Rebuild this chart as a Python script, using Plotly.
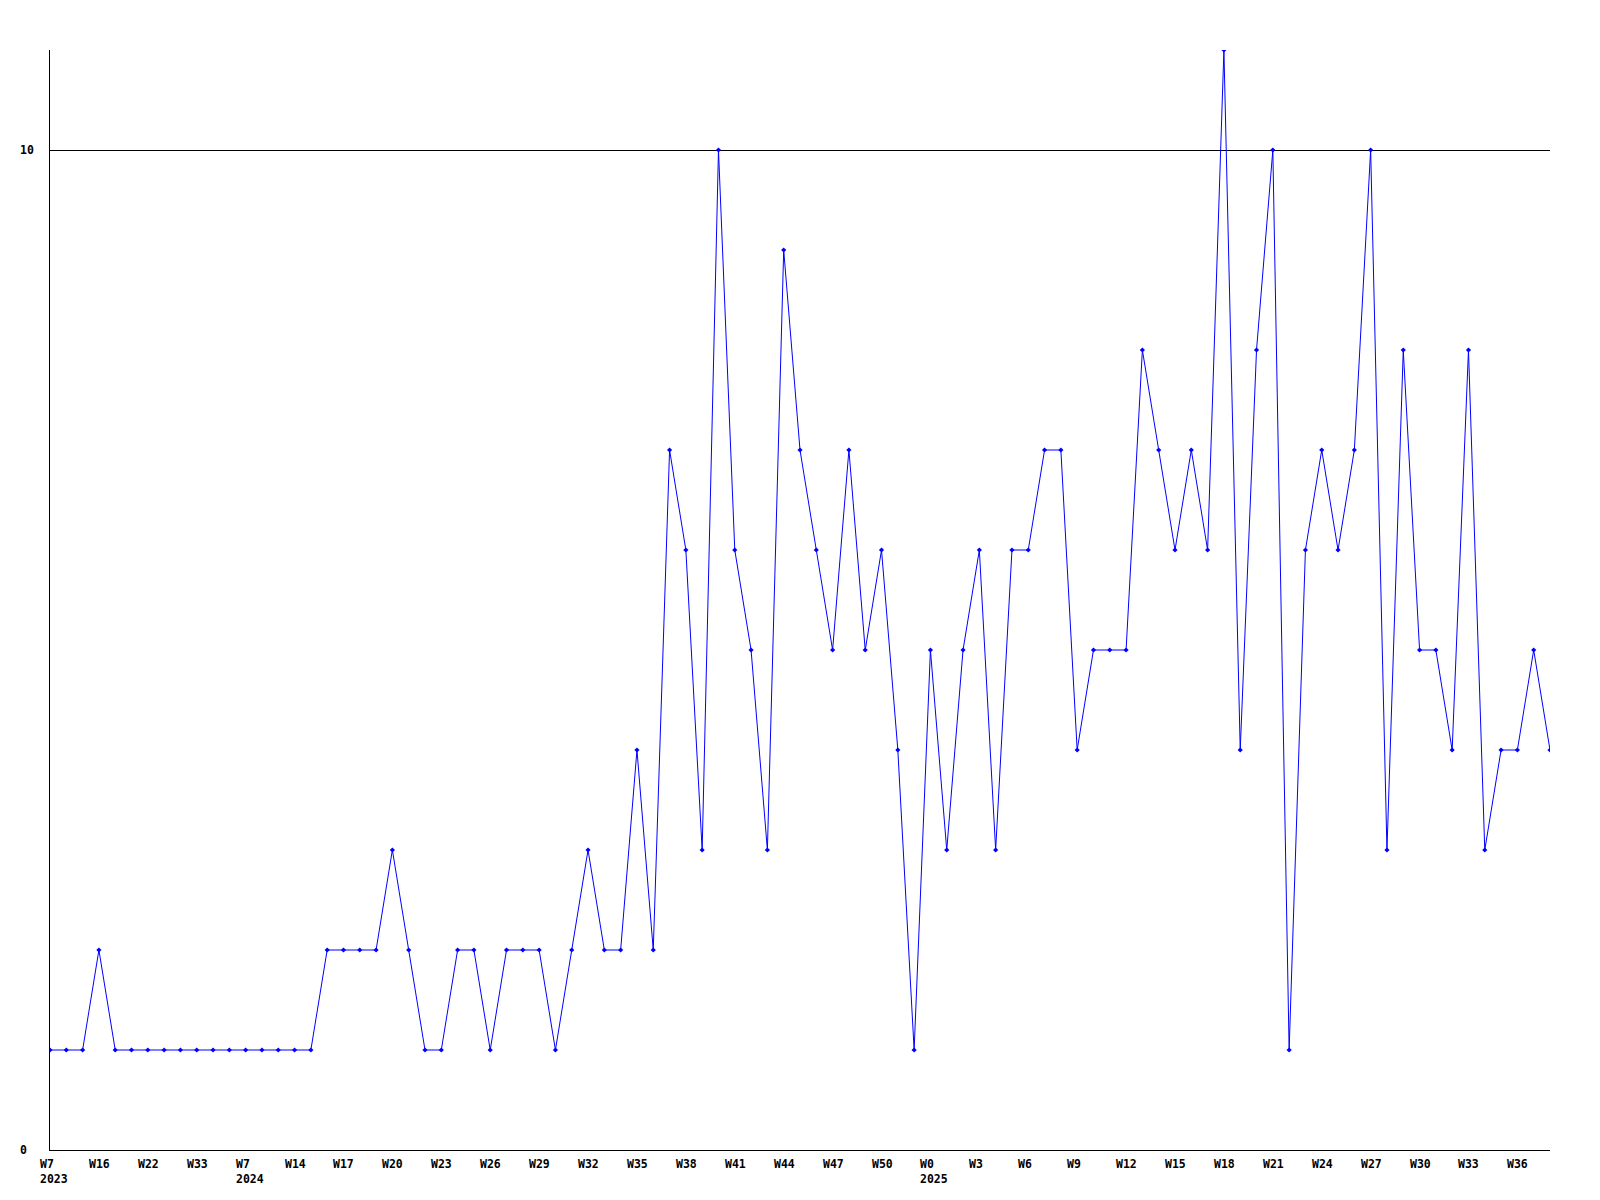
import plotly.graph_objects as go

# weekly counts, one point per week shown on the axis
counts = [
    1, 1, 1, 2, 1, 1, 1, 1, 1, 1, 1, 1, 1, 1, 1, 1, 1, 2, 2, 2,
    2, 3, 2, 1, 1, 2, 2, 1, 2, 2, 2, 1, 2, 3, 2, 2, 4, 2, 7, 6,
    3, 10, 6, 5, 3, 9, 7, 6, 5, 7, 5, 6, 4, 1, 5, 3, 5, 6, 3, 6,
    6, 7, 7, 4, 5, 5, 5, 8, 7, 6, 7, 6, 11, 4, 8, 10, 1, 6, 7, 6,
    7, 10, 3, 8, 5, 5, 4, 8, 3, 4, 4, 5, 4,
]
week_labels = [
    "W7<br>2023", "W16", "W22", "W33", "W7<br>2024", "W14", "W17", "W20",
    "W23", "W26", "W29", "W32", "W35", "W38", "W41", "W44", "W47", "W50",
    "W0<br>2025", "W3", "W6", "W9", "W12", "W15", "W18", "W21", "W24",
    "W27", "W30", "W33", "W36",
]
label_step = 3
y_ticks = [0, 10]

x = list(range(len(counts)))
font = dict(family="DejaVu Sans Mono", size=11.5, color="black", weight="bold")

fig = go.Figure()
fig.add_trace(
    go.Scatter(
        x=x,
        y=counts,
        mode="lines+markers",
        line=dict(color="#0000ff", width=1),
        marker=dict(symbol="diamond", size=4, color="#0000ff"),
        showlegend=False,
        hoverinfo="x+y",
    )
)

annotations = []
for i, lab in enumerate(week_labels):
    annotations.append(
        dict(
            x=x[i * label_step], y=0, xref="x", yref="paper",
            text=lab, showarrow=False, xanchor="left", yanchor="top",
            align="left", xshift=-12, yshift=-5, font=font,
        )
    )
for v in y_ticks:
    annotations.append(
        dict(
            x=0, y=v, xref="paper", yref="y", text=str(v), showarrow=False,
            xanchor="left", yanchor="middle", xshift=-32, font=font,
        )
    )

# page body adds an 8px offset, margins compensate for it
fig.update_layout(
    width=1600,
    height=1200,
    margin=dict(l=42, r=58, t=42, b=58),
    plot_bgcolor="white",
    paper_bgcolor="white",
    annotations=annotations,
    xaxis=dict(
        range=[0, len(counts) - 1], showgrid=False, zeroline=False,
        showline=True, linecolor="black", linewidth=1,
        showticklabels=False, ticks="",
    ),
    yaxis=dict(
        range=[0, 11], tickvals=y_ticks, showgrid=True, gridcolor="black",
        gridwidth=1, zeroline=False, showline=True, linecolor="black",
        linewidth=1, showticklabels=False, ticks="",
    ),
)

fig.write_html("out.html")
